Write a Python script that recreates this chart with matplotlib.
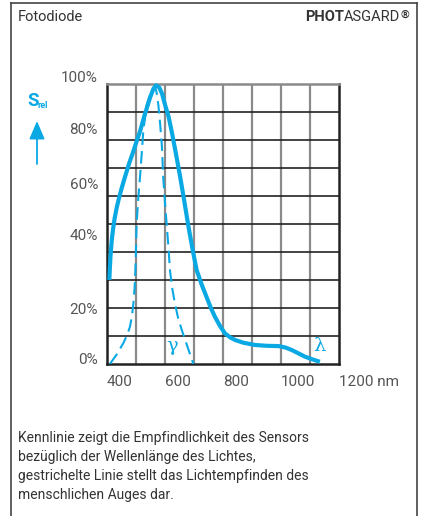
import matplotlib.pyplot as plt
from matplotlib.lines import Line2D

plt.rcParams['font.family'] = ['Roboto', 'DejaVu Sans']

# sensor sensitivity (solid) and human eye (dashed)
sensor_nm = [408, 410, 412, 414, 417, 421, 426, 433, 440, 450, 462, 476, 491, 503, 514, 530,
             548, 560, 569, 580, 590, 600, 612, 623, 637, 652, 666, 680, 695, 709, 726, 743,
             757, 772, 790, 807, 825, 841, 870, 910, 950, 991, 1015, 1037, 1060, 1083, 1110, 1134]
sensor_rel = [30, 34.5, 38.5, 41.3, 44.8, 48.3, 51.8, 55.6, 58.7, 62.6, 66.8, 71.5, 76, 79.8, 83.1, 89,
              95, 98.3, 99.5, 98.8, 96.5, 92.6, 88.5, 83.1, 75.5, 67, 58.5, 49.6, 41, 33.6, 28.5, 24,
              20.3, 16.9, 13.5, 10.9, 9.5, 8.6, 7.6, 6.8, 6.5, 6.4, 5.9, 5, 3.8, 2.6, 1.6, 0.8]

eye_nm = [410, 434, 456, 470, 479, 486, 491, 495, 497, 499, 502, 507, 514, 520, 525, 531,
          537, 550, 560, 566, 571, 577, 583, 589, 594, 600, 606, 612, 617, 625, 634, 645,
          658, 678, 698]
eye_rel = [0, 3.5, 7.4, 10.5, 13.3, 17, 21.7, 27, 31, 37, 49.6, 58, 67, 75.5, 83, 88,
           92.6, 96.5, 98.5, 99, 97, 92.6, 86, 78.3, 66.4, 57.5, 49.6, 41.5, 33.6, 27, 21.7, 16.5,
           12.1, 6, 0]

x_ticks = [400, 600, 800, 1000, 1200]
x_labels = ['400', '600', '800', '1000', '1200 nm']
y_labels = ['100%', '80%', '60%', '40%', '20%', '0%']
y_label_pos = [102, 83.6, 63.9, 45.8, 19.3, 1.4]

blue = '#0aa9e4'
W, H = 423, 516

fig = plt.figure(figsize=(4.23, 5.16), dpi=100)
ax = fig.add_axes([107 / W, 1 - 364 / H, 232 / W, 280 / H])

ax.set_xlim(400, 1200)
ax.set_ylim(0, 100)
for v in range(500, 1200, 100):
    ax.axvline(v, color='#8a8a8a', lw=1.6, zorder=1)
for v in range(10, 100, 10):
    ax.axhline(v, color='#222222', lw=1.2, zorder=1)

ax.plot(sensor_nm, sensor_rel, color=blue, lw=3, solid_capstyle='butt', zorder=3, clip_on=False)
ax.plot(eye_nm, eye_rel, color=blue, lw=1.5, dashes=(6, 3), zorder=3)

ax.text(626, 6.5, 'γ', color=blue, fontsize=14, ha='center', va='center', family='DejaVu Serif')
ax.text(1134, 6.5, 'λ', color=blue, fontsize=14, ha='center', va='center', family='DejaVu Serif')

for s in ['left', 'bottom', 'right']:
    ax.spines[s].set_color('#222222')
    ax.spines[s].set_linewidth(1.8)
ax.spines['top'].set_color('#8a8a8a')
ax.spines['top'].set_linewidth(1.8)

ax.set_xticks(x_ticks)
ax.set_xticklabels(x_labels)
for lab in ax.get_xticklabels():
    lab.set_ha('left')
    lab.set_color('#555555')
    lab.set_fontsize(11)
ax.tick_params(axis='x', length=0, pad=8)
ax.set_yticks([])

ytrans = ax.get_yaxis_transform()
for lab, pos in zip(y_labels, y_label_pos):
    ax.text(-9 / 232, pos, lab, transform=ytrans, ha='right', va='center',
            color='#555555', fontsize=11)

# S_rel label with arrow
fig.text(27 / W, 1 - 101 / H, 'S', color=blue, fontsize=13.5, fontweight='bold', va='center')
fig.text(37.5 / W, 1 - 106 / H, 'rel', color=blue, fontsize=6.5, fontweight='bold', va='center')
ax.annotate('', xy=(37 / W, 1 - 121 / H), xytext=(37 / W, 1 - 164 / H),
            xycoords='figure fraction', textcoords='figure fraction',
            arrowprops=dict(arrowstyle='-|>,head_width=0.47,head_length=1.1',
                            color=blue, lw=1.3, shrinkA=0, shrinkB=0))

# frame and header
for xs, ys in [([11 / W, 11 / W], [0, 1 - 3 / H]),
               ([417 / W, 417 / W], [0, 1 - 3 / H]),
               ([11 / W, 417 / W], [1 - 3 / H, 1 - 3 / H])]:
    fig.add_artist(Line2D(xs, ys, transform=fig.transFigure, color='#444444', lw=1.2))

fig.text(18 / W, 1 - 17 / H, 'Fotodiode', fontsize=10.5, color='#333333', va='center')

renderer = fig.canvas.get_renderer()
reg = fig.text(409 / W, 1 - 15 / H, '®', fontsize=8, color='#333333', va='center', ha='right',
               fontweight='bold')
reg_left = reg.get_window_extent(renderer).x0
asg = fig.text((reg_left - 0.5) / W, 1 - 17 / H, 'ASGARD', fontsize=10.5, color='#333333',
               va='center', ha='right')
asg_left = asg.get_window_extent(renderer).x0
fig.text(asg_left / W, 1 - 17 / H, 'PHOT', fontsize=10.5, color='#333333', va='center', ha='right',
         fontweight='bold')

desc = ('Kennlinie zeigt die Empfindlichkeit des Sensors\n'
        'bezüglich der Wellenlänge des Lichtes,\n'
        'gestrichelte Linie stellt das Lichtempfinden des\n'
        'menschlichen Auges dar.')
fig.text(18 / W, 1 - 431 / H, desc, fontsize=10, color='#333333', va='top', ha='left',
         linespacing=1.45)

fig.savefig('out.png', dpi=100)
